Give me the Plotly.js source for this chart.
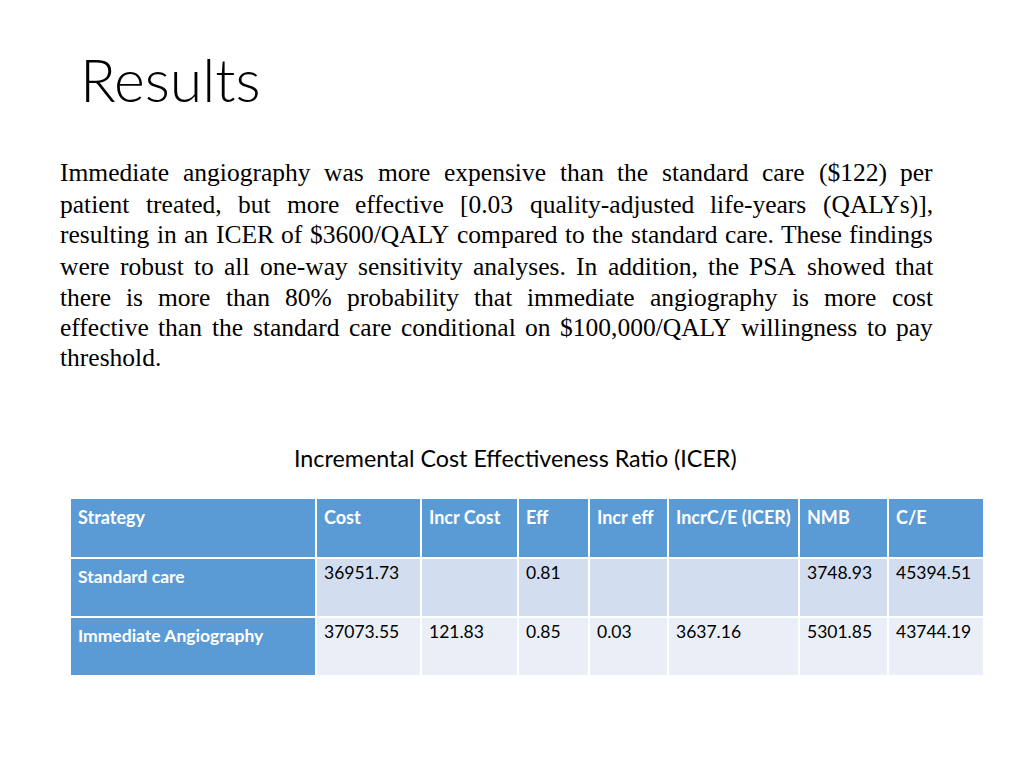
<!DOCTYPE html>
<html>
<head>
<meta charset="utf-8">
<script src="https://cdn.plot.ly/plotly-3.0.1.min.js"></script>
<style>
  html, body { margin: 0; padding: 0; background: #ffffff; }
  #chart { width: 1024px; height: 768px; }
</style>
</head>
<body>
<div id="chart"></div>
<script>
// ---- Data ----
const slideTitle = "Results";
const tableTitle = "Incremental Cost Effectiveness Ratio (ICER)";
const paragraphLines = [
  "Immediate angiography was more expensive than the standard care ($122) per",
  "patient treated, but more effective [0.03 quality-adjusted life-years (QALYs)],",
  "resulting in an ICER of $3600/QALY compared to the standard care. These findings",
  "were robust to all one-way sensitivity analyses. In addition, the PSA showed that",
  "there is more than 80% probability that immediate angiography is more cost",
  "effective than the standard care conditional on $100,000/QALY willingness to pay",
  "threshold."
];
const headers = ["Strategy", "Cost", "Incr Cost", "Eff", "Incr eff", "IncrC/E (ICER)", "NMB", "C/E"];
const strategies = ["Standard care", "Immediate Angiography"];
const cost = ["36951.73", "37073.55"];
const incrCost = ["", "121.83"];
const eff = ["0.81", "0.85"];
const incrEff = ["", "0.03"];
const icer = ["", "3637.16"];
const nmb = ["3748.93", "5301.85"];
const ce = ["45394.51", "43744.19"];

// ---- Layout helpers ----
const W = 1024, H = 768;
const px = x => x / W;
const py = y => 1 - y / H;

const headerBlue = "#5B9BD5";
const row1 = "#D2DEEF";
const row2 = "#EAEFF7";

const noWrap = s => s.replace(/ /g, "\u00a0");

const colWidths = [246, 105, 97, 71, 79, 131, 89, 96];
const columns = [strategies, cost, incrCost, eff, incrEff, icer, nmb, ce];
const fillColors = columns.map((c, i) => i === 0 ? [headerBlue, headerBlue] : [row1, row2]);
const fontColors = columns.map((c, i) => i === 0 ? ["#ffffff", "#ffffff"] : ["#000000", "#000000"]);

const tableTrace = {
  type: "table",
  domain: { x: [px(70), px(984)], y: [py(678), py(498)] },
  columnwidth: colWidths,
  header: {
    values: headers.map(h => "<b>" + noWrap(h) + "</b>"),
    align: "left",
    height: 60,
    fill: { color: headerBlue },
    line: { color: "#ffffff", width: 2 },
    font: { family: "Lato, 'Open Sans', sans-serif", size: 18, color: "#ffffff" }
  },
  cells: {
    values: columns.map((c, i) => i === 0 ? c.map(s => "<b>" + noWrap(s) + "</b>") : c),
    align: "left",
    height: 59,
    fill: { color: fillColors },
    line: { color: "#ffffff", width: 2 },
    font: { family: "Lato, 'Open Sans', sans-serif", size: 17.5, color: fontColors }
  }
};

// ---- Justified paragraph via word measuring ----
const paraFont = "'Liberation Serif', 'Times New Roman', serif";
const paraSize = 25.5;
const paraLeft = 60, paraRight = 933;
const lineYs = [173, 204, 235, 266, 297, 327, 357];
const canvas = document.createElement("canvas");
const ctx = canvas.getContext("2d");
ctx.font = paraSize + "px 'Liberation Serif'";

const annotations = [];
paragraphLines.forEach((line, li) => {
  const words = line.split(" ");
  const isLast = li === paragraphLines.length - 1;
  const widths = words.map(w => ctx.measureText(w).width);
  const total = widths.reduce((a, b) => a + b, 0);
  let gap = ctx.measureText(" ").width;
  if (!isLast && words.length > 1) {
    gap = (paraRight - paraLeft - total) / (words.length - 1);
  }
  let x = paraLeft;
  words.forEach((w, wi) => {
    annotations.push({
      xref: "paper", yref: "paper",
      x: px(x - 1), y: py(lineYs[li]),
      xanchor: "left", yanchor: "middle",
      text: w, showarrow: false, borderpad: 0,
      font: { family: paraFont, size: paraSize, color: "#000000" }
    });
    x += widths[wi] + gap;
  });
});

annotations.push({
  xref: "paper", yref: "paper", x: px(78), y: py(79),
  xanchor: "left", yanchor: "middle", showarrow: false,
  text: slideTitle,
  font: { family: "Lato, 'Open Sans', sans-serif", size: 59, color: "#000000", weight: 300 }
});
annotations.push({
  xref: "paper", yref: "paper", x: px(515), y: py(458),
  xanchor: "center", yanchor: "middle", showarrow: false,
  text: tableTitle,
  font: { family: "Lato, 'Open Sans', sans-serif", size: 23.3, color: "#000000" }
});

const layout = {
  width: W, height: H,
  margin: { l: 0, r: 0, t: 0, b: 0 },
  paper_bgcolor: "#ffffff",
  plot_bgcolor: "#ffffff",
  xaxis: { visible: false }, yaxis: { visible: false },
  showlegend: false,
  annotations: annotations
};

Plotly.newPlot("chart", [tableTrace], layout, { displayModeBar: false, staticPlot: true });
</script>
</body>
</html>
